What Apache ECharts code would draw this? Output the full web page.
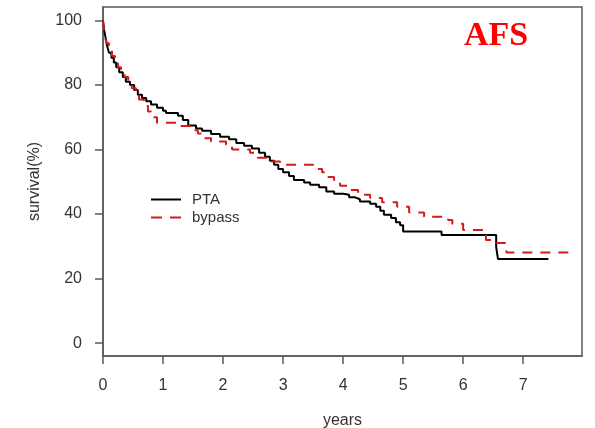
<!DOCTYPE html>
<html>
<head>
<meta charset="utf-8">
<script src="https://cdn.jsdelivr.net/npm/echarts@6/dist/echarts.min.js"></script>
<style>
  html, body { margin: 0; padding: 0; background: #fff; }
  #chart { width: 595px; height: 428px; }
</style>
</head>
<body>
<div id="chart"></div>
<script>
// Kaplan-Meier curves, values (years, survival %)
var ptaTime = [0, 0.02, 0.04, 0.07, 0.1, 0.14, 0.18, 0.22, 0.27, 0.33, 0.38, 0.45, 0.52, 0.58, 0.65, 0.72, 0.8, 0.9, 1.0, 1.05,
    1.25, 1.33, 1.42, 1.55, 1.65, 1.8, 1.95, 2.1, 2.22, 2.35, 2.48, 2.6, 2.7, 2.78, 2.85, 2.92, 3.0, 3.1, 3.18, 3.35,
    3.45, 3.6, 3.72, 3.85, 4.0, 4.1, 4.2, 4.28, 4.45, 4.55, 4.62, 4.68, 4.8, 4.88, 4.95, 5.0, 5.64, 6.55, 6.58, 7.42];
var ptaSurv = [100, 97, 95, 92, 90, 88.5, 87, 85.5, 84, 82.5, 81, 80, 78.5, 77, 76, 75, 74, 73, 72, 71.3,
    70.5, 69.2, 67.5, 66.5, 65.8, 64.8, 64, 63.2, 62, 61.2, 60.3, 59, 57.8, 56.5, 55.3, 54, 53, 51.8, 50.6, 49.8,
    49.1, 48.3, 47, 46.3, 46, 45.2, 44.6, 43.9, 43.2, 42.3, 41, 39.8, 38.8, 37.5, 36.5, 34.6, 33.5, 29.8, 26.1, 26.1];

var bypassTime = [0, 0.01, 0.03, 0.06, 0.1, 0.15, 0.2, 0.25, 0.3, 0.36, 0.42, 0.48, 0.55, 0.6, 0.68, 0.75, 0.8, 0.9, 1.3, 1.45,
    1.58, 1.68, 1.8, 2.05, 2.15, 2.45, 2.58, 2.72, 2.95, 3.5, 3.65, 3.75, 3.85, 3.95, 4.1, 4.25, 4.45, 4.65, 4.9, 5.1,
    5.35, 5.75, 5.82, 6.0, 6.38, 6.55, 6.72, 7.8];
var bypassSurv = [100, 98, 95, 93, 91, 89, 87.5, 85.5, 84, 82.5, 80.5, 79, 77, 75.5, 73.5, 71.8, 70, 68.3, 67.3, 66,
    65, 63.5, 62.5, 61.5, 60, 59, 57.5, 56.3, 55.3, 54, 53, 51.5, 50, 48.8, 47.5, 46, 45, 43.7, 42.3, 40.5,
    39.2, 38.2, 37, 35.1, 32, 31, 28.1, 28.1];

var xTicks = [0, 1, 2, 3, 4, 5, 6, 7];
var yTicks = [0, 20, 40, 60, 80, 100];

function zip(a, b) {
    var out = [];
    for (var i = 0; i < a.length; i++) out.push([a[i], b[i]]);
    return out;
}

var axisGrey = '#5a5a5a';
var labelStyle = { color: '#333', fontSize: 16, fontFamily: 'Liberation Sans' };

var option = {
    backgroundColor: '#fff',
    animation: false,
    grid: {
        left: 103, right: 13, top: 7, bottom: 72,
        outerBoundsMode: 'none',
        show: true, borderColor: axisGrey, borderWidth: 1.5
    },
    legend: {
        orient: 'vertical',
        left: 146, top: 187,
        itemWidth: 30, itemHeight: 2, itemGap: 3,
        textStyle: { color: '#333', fontSize: 15, fontFamily: 'Liberation Sans', padding: [0, 0, 0, 6] },
        data: [
            { name: 'PTA', icon: 'path://M0,0H30V2H0Z' },
            { name: 'bypass', icon: 'path://M0,0H11V2H0Z M19,0H30V2H19Z' }
        ]
    },
    graphic: [{
        type: 'text',
        left: 464, top: 19,
        style: {
            text: 'AFS',
            fill: '#ff0000',
            font: 'bold 34px "Liberation Serif"',
            shadowColor: 'rgba(0,0,0,0.2)', shadowBlur: 2, shadowOffsetX: 2, shadowOffsetY: 2
        }
    }],
    xAxis: {
        type: 'value', min: 0, max: 7.98,
        name: 'years', nameLocation: 'middle', nameGap: 57,
        nameTextStyle: labelStyle,
        axisLine: { show: true, onZero: false, lineStyle: { color: axisGrey, width: 1.5 } },
        axisTick: { show: true, length: 8, customValues: xTicks, lineStyle: { color: axisGrey, width: 1.5 } },
        axisLabel: Object.assign({ margin: 22, customValues: xTicks }, labelStyle),
        splitLine: { show: false }
    },
    yAxis: {
        type: 'value', min: -4, max: 104.2,
        name: 'survival(%)', nameLocation: 'middle', nameGap: 60, nameRotate: 90,
        nameTextStyle: labelStyle,
        axisLine: { show: true, onZero: false, lineStyle: { color: axisGrey, width: 1.5 } },
        axisTick: { show: true, length: 8, customValues: yTicks, lineStyle: { color: axisGrey, width: 1.5 } },
        axisLabel: Object.assign({ margin: 21, customValues: yTicks }, labelStyle),
        splitLine: { show: false }
    },
    series: [{
        name: 'PTA', type: 'line', step: 'end', showSymbol: false, symbol: 'none',
        lineStyle: { color: '#000', width: 2 },
        itemStyle: { color: '#000' },
        data: zip(ptaTime, ptaSurv)
    }, {
        name: 'bypass', type: 'line', step: 'end', showSymbol: false, symbol: 'none',
        lineStyle: { color: '#d41a1a', width: 2, type: [10, 8] },
        itemStyle: { color: '#d41a1a' },
        data: zip(bypassTime, bypassSurv)
    }]
};

var chart = echarts.init(document.getElementById('chart'), null, { renderer: 'canvas' });
chart.setOption(option);
</script>
</body>
</html>
